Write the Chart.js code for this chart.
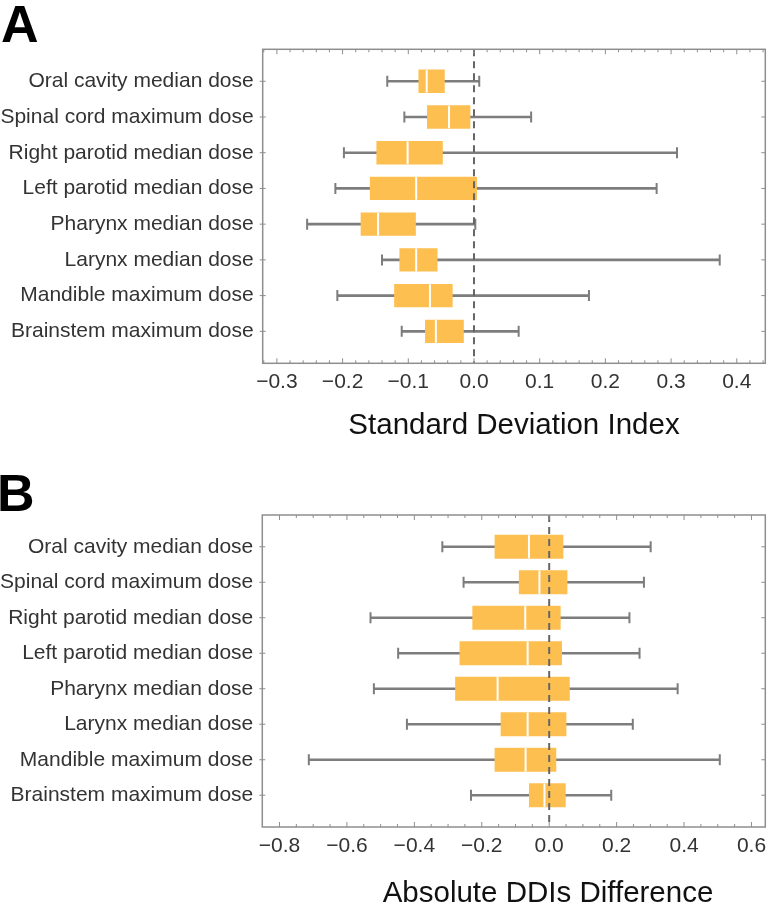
<!DOCTYPE html>
<html>
<head>
<meta charset="utf-8">
<script src="https://cdn.jsdelivr.net/npm/chart.js@4.4.1/dist/chart.umd.min.js"></script>
<style>
html,body{margin:0;padding:0;background:#fff;width:768px;height:907px;overflow:hidden;}
#wrap{position:relative;width:768px;height:907px;font-family:"Liberation Sans",Arial,sans-serif;}
.cv{position:absolute;left:0;}
.letter{position:absolute;font-weight:bold;font-size:52px;line-height:52px;color:#000;}
.xt{position:absolute;font-size:29.5px;line-height:30px;color:#111;white-space:nowrap;transform:translateX(-50%);}
</style>
</head>
<body>
<div id="wrap">
  <canvas id="cA" class="cv" width="768" height="450" style="top:0px"></canvas>
  <canvas id="cB" class="cv" width="768" height="457" style="top:450px"></canvas>
  <div class="letter" style="left:1px;top:-2px">A</div>
  <div class="letter" style="left:-3px;top:467px">B</div>
  <div class="xt" style="left:548px;top:877px">Absolute DDIs Difference</div>
</div>
<script>
// ---------- data ----------
const categories = [
  "Oral cavity median dose",
  "Spinal cord maximum dose",
  "Right parotid median dose",
  "Left parotid median dose",
  "Pharynx median dose",
  "Larynx median dose",
  "Mandible maximum dose",
  "Brainstem maximum dose"
];

// Panel A: Standard Deviation Index
const sdiMin    = [-0.132, -0.106, -0.198, -0.211, -0.254, -0.140, -0.208, -0.110];
const sdiQ1     = [-0.084, -0.071, -0.148, -0.158, -0.172, -0.113, -0.121, -0.074];
const sdiMedian = [-0.072, -0.038, -0.101, -0.088, -0.146, -0.088, -0.067, -0.058];
const sdiQ3     = [-0.045, -0.006, -0.048,  0.004, -0.089, -0.056, -0.033, -0.016];
const sdiMax    = [ 0.008,  0.087,  0.309,  0.278,  0.002,  0.374,  0.175,  0.068];
const sdiTicks  = [-0.3, -0.2, -0.1, 0.0, 0.1, 0.2, 0.3, 0.4];

// Panel B: Absolute DDIs Difference
const ddiMin    = [-0.317, -0.254, -0.530, -0.448, -0.520, -0.422, -0.713, -0.232];
const ddiQ1     = [-0.161, -0.089, -0.227, -0.265, -0.278, -0.143, -0.161, -0.059];
const ddiMedian = [-0.060, -0.029, -0.071, -0.064, -0.153, -0.064, -0.070, -0.014];
const ddiQ3     = [ 0.041,  0.053,  0.033,  0.037,  0.060,  0.050,  0.020,  0.048];
const ddiMax    = [ 0.301,  0.281,  0.238,  0.268,  0.381,  0.248,  0.506,  0.184];
const ddiTicks  = [-0.8, -0.6, -0.4, -0.2, 0.0, 0.2, 0.4, 0.6];

const referenceValue = 0;

// ---------- style ----------
const FONT = "'Liberation Sans', Arial, sans-serif";
const BOX = '#FDBF50';
const GREY = '#7d7d7d';

function fmt(v) {
  const s = Math.abs(v).toFixed(1);
  return (v < -1e-9 ? '\u2212' : '') + s;
}

const framePlugin = {
  id: 'frame',
  afterDatasetsDraw(chart, args, opts) {
    const {ctx, chartArea: a, scales: {x, y}} = chart;
    ctx.save();
    // dashed reference line
    const px = x.getPixelForValue(opts.ref);
    ctx.strokeStyle = '#666';
    ctx.lineWidth = 2;
    ctx.setLineDash([7, 5]);
    ctx.beginPath();
    ctx.moveTo(px, a.top);
    ctx.lineTo(px, a.bottom);
    ctx.stroke();
    ctx.setLineDash([]);
    // frame
    ctx.strokeStyle = '#8e8e8e';
    ctx.lineWidth = 1.5;
    ctx.strokeRect(a.left, a.top, a.right - a.left, a.bottom - a.top);
    // x ticks (major + minor), inward, top and bottom
    ctx.lineWidth = 1;
    const tv = opts.ticks;
    const step = tv[1] - tv[0];
    const drawX = (v, len) => {
      const p = x.getPixelForValue(v);
      if (p < a.left + 1 || p > a.right - 1) return;
      ctx.beginPath();
      ctx.moveTo(p, a.bottom); ctx.lineTo(p, a.bottom - len);
      ctx.moveTo(p, a.top); ctx.lineTo(p, a.top + len);
      ctx.stroke();
    };
    for (let k = -1; k < tv.length; k++) {
      const base = tv[0] + k * step;
      if (k >= 0) drawX(base, 5);
      for (let m = 1; m < opts.minor; m++) drawX(base + m * step / opts.minor, 3);
    }
    // y ticks at categories
    categories.forEach((c, i) => {
      const p = y.getPixelForValue(i);
      ctx.beginPath();
      ctx.moveTo(a.left - 3, p); ctx.lineTo(a.left + 3, p);
      ctx.moveTo(a.right, p); ctx.lineTo(a.right - 4, p);
      ctx.stroke();
    });
    ctx.restore();
  }
};

function boxChart(id, d, g) {
  const idx = categories.map((_, i) => i);
  const capSet = (vals) => ({
    type: 'line',
    data: idx.map(i => ({x: vals[i], y: i})),
    showLine: false,
    pointStyle: 'line',
    pointRotation: 90,
    pointRadius: 5.5,
    pointHoverRadius: 5.5,
    pointBorderColor: GREY,
    pointBorderWidth: 2,
    order: 2
  });
  return new Chart(document.getElementById(id), {
    type: 'bar',
    data: {
      labels: categories,
      datasets: [
        {
          type: 'line',
          data: idx.map(i => ({x: d.med[i], y: i})),
          showLine: false,
          pointStyle: 'line',
          pointRotation: 90,
          pointRadius: g.box / 2,
          pointHoverRadius: g.box / 2,
          pointBorderColor: '#ffffff',
          pointBorderWidth: 2,
          order: 1
        },
        capSet(d.min),
        capSet(d.max),
        {
          type: 'bar',
          data: idx.map(i => ({x: [d.q1[i], d.q3[i]], y: i})),
          backgroundColor: BOX,
          borderWidth: 0,
          barThickness: g.box,
          grouped: false,
          order: 3
        },
        {
          type: 'bar',
          data: idx.map(i => ({x: [d.min[i], d.max[i]], y: i})),
          backgroundColor: GREY,
          borderWidth: 0,
          barThickness: 2,
          grouped: false,
          order: 4
        }
      ]
    },
    options: {
      indexAxis: 'y',
      animation: false,
      responsive: false,
      events: [],
      layout: {autoPadding: false, padding: {top: g.top, right: g.right, left: 0, bottom: 0}},
      plugins: {
        legend: {display: false},
        tooltip: {enabled: false},
        frame: {ref: referenceValue, ticks: g.ticks, minor: g.minor}
      },
      scales: {
        x: {
          type: 'linear',
          min: g.xmin, max: g.xmax,
          offset: false,
          afterBuildTicks: s => { s.ticks = g.ticks.map(v => ({value: v})); },
          afterFit: s => { s.height = g.xh; s.paddingLeft = 0; s.paddingRight = 0; },
          grid: {display: false, drawTicks: false},
          border: {display: false},
          ticks: {
            padding: 6.3, color: '#333', autoSkip: false, maxRotation: 0,
            font: {size: 21, family: FONT},
            callback: v => fmt(v)
          },
          title: {
            display: !!g.title, text: g.title || '', color: '#111',
            font: {size: 29.5, family: FONT},
            padding: {top: 0, bottom: 6.3}
          }
        },
        y: {
          type: 'linear',
          min: -0.895, max: 7.895,
          reverse: true,
          offset: false,
          afterBuildTicks: s => { s.ticks = categories.map((_, i) => ({value: i})); },
          afterFit: s => { s.width = g.left; s.paddingTop = 0; s.paddingBottom = 0; },
          grid: {display: false, drawTicks: false, offset: false},
          border: {display: false},
          ticks: {
            padding: 9, color: '#333', autoSkip: false,
            font: {size: 21, family: FONT},
            callback: v => categories[v]
          }
        }
      }
    },
    plugins: [framePlugin]
  });
}

boxChart('cA',
  {min: sdiMin, q1: sdiQ1, med: sdiMedian, q3: sdiQ3, max: sdiMax},
  {top: 49.3, right: 2.7, left: 262.7, xh: 86.7, box: 22.7,
   xmin: -0.3216, xmax: 0.4434, ticks: sdiTicks, minor: 5,
   title: 'Standard Deviation Index'});

boxChart('cB',
  {min: ddiMin, q1: ddiQ1, med: ddiMedian, q3: ddiQ3, max: ddiMax},
  {top: 65, right: 2.7, left: 262.3, xh: 80, box: 23.3,
   xmin: -0.851, xmax: 0.641, ticks: ddiTicks, minor: 4,
   title: ''});
</script>
</body>
</html>
